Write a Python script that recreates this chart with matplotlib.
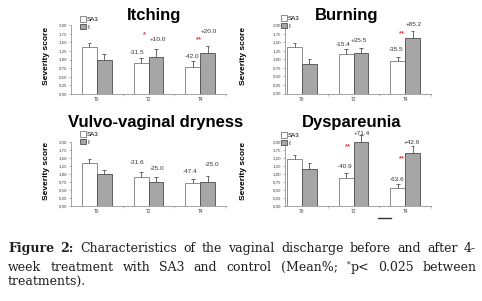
import numpy as np
import matplotlib
matplotlib.use("Agg")
import matplotlib.pyplot as plt
from matplotlib.lines import Line2D

# --- datos ---
categorias = ['T0', 'T2', 'T4']
grupos = ['SA3', 'I']

itching_sa3 = [1.35, 0.91, 0.79]
itching_sa3_err = [0.14, 0.14, 0.16]
itching_i = [1.00, 1.08, 1.20]
itching_i_err = [0.15, 0.22, 0.19]
itching_sa3_pct = ['', '-31.5', '-42.0']
itching_i_pct = ['', '+10.0', '+20.0']
itching_sig = ['', '*', '**']

burning_sa3 = [1.36, 1.15, 0.95]
burning_sa3_err = [0.12, 0.14, 0.13]
burning_i = [0.86, 1.18, 1.62]
burning_i_err = [0.16, 0.16, 0.21]
burning_sa3_pct = ['', '-15.4', '-35.5']
burning_i_pct = ['', '+35.5', '+85.2']
burning_sig = ['', '', '**']

dryness_sa3 = [1.35, 0.92, 0.72]
dryness_sa3_err = [0.12, 0.13, 0.13]
dryness_i = [1.00, 0.75, 0.75]
dryness_i_err = [0.13, 0.17, 0.18]
dryness_sa3_pct = ['', '-31.6', '-47.4']
dryness_i_pct = ['', '-25.0', '-25.0']
dryness_sig = ['', '', '']

dysp_sa3 = [1.46, 0.87, 0.55]
dysp_sa3_err = [0.14, 0.15, 0.13]
dysp_i = [1.17, 2.00, 1.67]
dysp_i_err = [0.17, 0.22, 0.19]
dysp_sa3_pct = ['', '-40.9', '-63.6']
dysp_i_pct = ['', '+71.4', '+42.9']
dysp_sig = ['', '**', '**']

W, H = 482, 301
fig = plt.figure(figsize=(W / 100, H / 100), dpi=100)
fig.patch.set_facecolor('white')

SANS = 'Liberation Sans'
COL_SA3 = 'white'
COL_I = '#a6a6a6'
EDGE_SA3 = '#7a7a7a'
EDGE_I = '#4d4d4d'
ANCHO = 0.286


def px_axes(left, right, top, bottom):
    return [left / W, 1 - bottom / H, (right - left) / W, (bottom - top) / H]


def panel(pos, xmin, titulo, tit_xy, leg_xy, ylab_x, sa3, sa3_err, ii, ii_err,
          pct_sa3, pct_i, sig, pos_sa3, pos_i, pos_sig):
    ax = fig.add_axes(px_axes(*pos))
    x = np.arange(len(categorias))
    b1 = ax.bar(x - ANCHO / 2, sa3, ANCHO, color=COL_SA3, edgecolor=EDGE_SA3,
                linewidth=0.6, label=grupos[0], zorder=2)
    b2 = ax.bar(x + ANCHO / 2, ii, ANCHO, color=COL_I, edgecolor=EDGE_I,
                linewidth=0.6, label=grupos[1], zorder=2)
    # barras de error solo hacia arriba
    for xs, v, e in [(x - ANCHO / 2, sa3, sa3_err), (x + ANCHO / 2, ii, ii_err)]:
        top = np.array(v) + np.array(e)
        ax.vlines(xs, v, top, color='#505050', lw=0.6, zorder=3, clip_on=False)
        ax.hlines(top, xs - 0.035, xs + 0.035, color='#505050', lw=0.6,
                  zorder=3, clip_on=False)

    ax.set_xlim(xmin, 2.5)
    ax.set_ylim(0, 2.0)
    ax.set_yticks(np.arange(0, 2.01, 0.25))
    ax.set_yticklabels([f'{v:.2f}'.replace('.', ',') for v in np.arange(0, 2.01, 0.25)])
    ax.set_xticks(x)
    ax.set_xticklabels(categorias)
    ax.set_xticks([0.5, 1.5, 2.5], minor=True)
    ax.tick_params(axis='x', which='major', length=0, labelsize=3.4,
                   labelcolor='#404040', pad=2.5)
    ax.tick_params(axis='x', which='minor', length=1.5, width=0.4, color='#808080')
    ax.tick_params(axis='y', length=1.5, width=0.4, color='#808080',
                   labelsize=3.2, labelcolor='#404040', pad=1.5)
    for s in ['top', 'right']:
        ax.spines[s].set_visible(False)
    for s in ['left', 'bottom']:
        ax.spines[s].set_color('#808080')
        ax.spines[s].set_linewidth(0.5)
    for lab in ax.get_xticklabels() + ax.get_yticklabels():
        lab.set_family(SANS)

    ax.set_ylabel('Severity score', fontsize=6, fontweight='bold', family=SANS)
    l, r_, t_, b_ = pos
    ax.yaxis.set_label_coords((ylab_x - l) / (r_ - l), 0.55)

    fig.text(tit_xy[0] / W, 1 - tit_xy[1] / H, titulo, ha='center', va='baseline',
             fontsize=12, fontweight='bold', family=SANS)

    ax.legend(handles=[b1, b2], loc='upper left', frameon=False,
              bbox_to_anchor=(leg_xy[0] / W, 1 - leg_xy[1] / H),
              bbox_transform=fig.transFigure, handlelength=1.0, handleheight=1.0,
              handletextpad=0.15, labelspacing=0.3, borderpad=0, borderaxespad=0,
              prop={'family': SANS, 'size': 4.5})

    for i in range(len(categorias)):
        if pct_sa3[i]:
            ax.text(pos_sa3[i][0], pos_sa3[i][1], pct_sa3[i], ha='center', va='center',
                    fontsize=4.6, color='#333333', family=SANS, clip_on=False)
        if pct_i[i]:
            ax.text(pos_i[i][0], pos_i[i][1], pct_i[i], ha='center', va='center',
                    fontsize=4.6, color='#333333', family=SANS, clip_on=False)
        if sig[i]:
            ax.text(pos_sig[i][0], pos_sig[i][1], sig[i], ha='center', va='center',
                    fontsize=5.5, fontweight='bold', color='#e0393e', family=SANS,
                    clip_on=False)
    return ax


panel((71, 226, 25, 94), -0.5, 'Itching', (154, 20), (80, 16), 50,
      itching_sa3, itching_sa3_err, itching_i, itching_i_err,
      itching_sa3_pct, itching_i_pct, itching_sig,
      [None, (0.78, 1.2), (1.84, 1.1)], [None, (1.19, 1.58), (2.16, 1.80)],
      [None, (0.93, 1.72), (1.98, 1.58)])

panel((285, 431, 25, 93.5), -0.33, 'Burning', (347, 20), (281, 15), 247,
      burning_sa3, burning_sa3_err, burning_i, burning_i_err,
      burning_sa3_pct, burning_i_pct, burning_sig,
      [None, (0.80, 1.43), (1.83, 1.28)], [None, (1.11, 1.55), (2.16, 2.01)],
      [None, None, (1.94, 1.75)])

panel((71, 226, 142, 206), -0.5, 'Vulvo-vaginal dryness', (156, 127), (80, 131), 50,
      dryness_sa3, dryness_sa3_err, dryness_i, dryness_i_err,
      dryness_sa3_pct, dryness_i_pct, dryness_sig,
      [None, (0.78, 1.36), (1.81, 1.08)], [None, (1.16, 1.16), (2.22, 1.30)],
      [None, None, None])

panel((285, 431, 142, 206), -0.33, 'Dyspareunia', (352, 127), (281, 132), 247,
      dysp_sa3, dysp_sa3_err, dysp_i, dysp_i_err,
      dysp_sa3_pct, dysp_i_pct, dysp_sig,
      [None, (0.84, 1.23), (1.85, 0.84)], [None, (1.16, 2.27), (2.13, 2.00)],
      [None, (0.90, 1.85), (1.94, 1.49)])

# pequena linea bajo el panel de dispareunia
fig.add_artist(Line2D([378 / W, 391 / W], [1 - 218 / H, 1 - 218 / H],
                      color='#333333', lw=1.0))

# --- pie de figura justificado ---
SERIF = 'DejaVu Serif'
FS = 9.0
renderer = fig.canvas.get_renderer()

linea1 = [('Figure', 'b'), ('2:', 'b'), ('Characteristics', 'n'), ('of', 'n'),
          ('the', 'n'), ('vaginal', 'n'), ('discharge', 'n'), ('before', 'n'),
          ('and', 'n'), ('after', 'n'), ('4-', 'n')]
linea2 = [('week', 'n'), ('treatment', 'n'), ('with', 'n'), ('SA3', 'n'),
          ('and', 'n'), ('control', 'n'), ('(Mean%;', 'n'), ('*', 'sup'),
          ('p<', 'n'), ('0.025', 'n'), ('between', 'n')]
linea3 = [('treatments).', 'n')]


def poner_linea(palabras, y_px, x0, x1, justificar):
    fichas = []
    actual = []
    for txt, est in palabras:
        t = fig.text(0, 1 - (y_px - (4 if est == 'sup' else 0)) / H, txt,
                     family=SERIF, fontsize=FS * (0.6 if est == 'sup' else 1),
                     fontweight='bold' if est == 'b' else 'normal',
                     color='#231f20', va='baseline', ha='left')
        actual.append(t)
        if est != 'sup':
            fichas.append(actual)
            actual = []
    anchos = [sum(t.get_window_extent(renderer).width for t in f) for f in fichas]
    if justificar and len(fichas) > 1:
        hueco = (x1 - x0 - sum(anchos)) / (len(fichas) - 1)
    else:
        hueco = 4
    x = x0
    for f, a in zip(fichas, anchos):
        xx = x
        for t in f:
            t.set_x(xx / W)
            xx += t.get_window_extent(renderer).width
        x += a + hueco


poner_linea(linea1, 252, 8, 476, True)
poner_linea(linea2, 271, 8, 477, True)
poner_linea(linea3, 286, 8, 477, False)

fig.savefig('out.png', dpi=100)
